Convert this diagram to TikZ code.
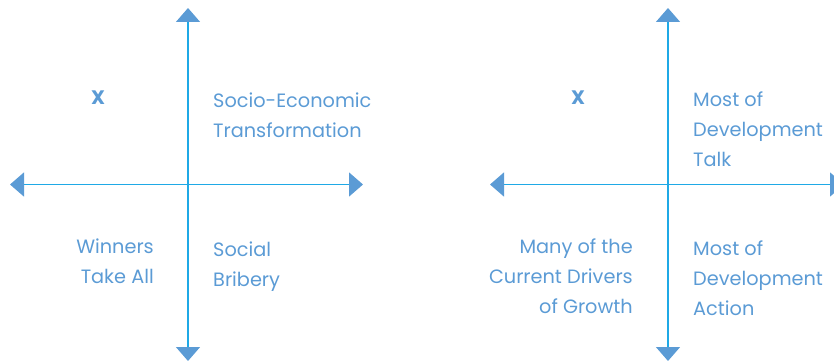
\documentclass[tikz,border=0pt]{standalone}
\usepackage{fontspec}
\setmainfont{Poppins}
\usetikzlibrary{arrows.meta}
\definecolor{axisline}{HTML}{1FA9E6}
\definecolor{tipblue}{HTML}{5B9BD5}
\definecolor{txtblue}{HTML}{5B9BD5}
\tikzset{
  axis/.style={draw=axisline, line width=1.5pt,
    {Triangle[length=14pt,width=24pt,color=tipblue]}-{Triangle[length=14pt,width=24pt,color=tipblue]}},
  lbl/.style={inner sep=0pt, text=txtblue, font=\fontsize{19.3}{29.7}\selectfont},
  lblL/.style={lbl, align=left, anchor=base west},
  lblR/.style={lbl, align=right, anchor=base east},
  lblX/.style={lbl, anchor=base, font=\fontsize{19.5}{29.7}\selectfont\bfseries},
}
\begin{document}
\begin{tikzpicture}[x=1pt,y=-1pt]
\useasboundingbox (0,0) rectangle (834,361);
% left diagram
\coordinate (l-top) at (188,8);
\coordinate (l-bot) at (188,361);
\coordinate (l-left) at (10,184.5);
\coordinate (l-right) at (363,184.5);
\draw[axis] (l-top) -- (l-bot);
\draw[axis] (l-left) -- (l-right);
\node[lblX] (l-x) at (98,104.5) {X};
\node[lblL] (l-tr) at (213,137) {Socio-Economic\\Transformation};
\node[lblR] (l-bl) at (154,283) {Winners\\Take All};
\node[lblL] (l-br) at (213,286) {Social\\Bribery};
% right diagram
\coordinate (r-top) at (668,8);
\coordinate (r-bot) at (668,361);
\coordinate (r-left) at (490,184.5);
\coordinate (r-right) at (844,184.5);
\draw[axis] (r-top) -- (r-bot);
\draw[axis] (r-left) -- (r-right);
\node[lblX] (r-x) at (578,104.5) {X};
\node[lblL] (r-tr) at (693,166) {Most of\\Development\\Talk};
\node[lblR] (r-bl) at (633,313) {Many of the\\Current Drivers\\of Growth};
\node[lblL] (r-br) at (693,315) {Most of\\Development\\Action};
\end{tikzpicture}
\end{document}
